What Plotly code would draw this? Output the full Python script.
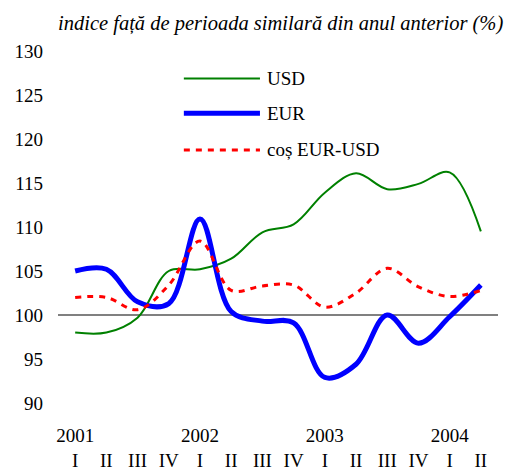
import plotly.graph_objects as go

quarters = ["I", "II", "III", "IV"] * 3 + ["I", "II"]
years = ["2001", "2002", "2003", "2004"]
usd = [98.0, 98.0, 99.7, 105.0, 105.2, 106.4, 109.4, 110.3, 113.9, 116.1, 114.3, 114.9, 116.2, 109.5]
eur = [105.0, 105.2, 101.5, 101.3, 110.9, 100.4, 99.3, 99.1, 92.9, 94.4, 100.0, 96.8, 99.8, 103.4]
cos = [102.0, 102.0, 100.6, 103.4, 108.4, 102.8, 103.3, 103.4, 100.9, 102.5, 105.3, 103.2, 102.1, 102.8]
yticks = [90, 95, 100, 105, 110, 115, 120, 125, 130]
title = "indice față de perioada similară din anul anterior (%)"

x = list(range(len(quarters)))
ticktext = []
for i, q in enumerate(quarters):
    if i % 4 == 0:
        ticktext.append(years[i // 4] + "<br>" + q)
    else:
        ticktext.append("<br>" + q)

FONT = "Liberation Serif, Times New Roman, serif"
fig = go.Figure()
fig.add_trace(go.Scatter(x=x, y=usd, mode="lines", name="USD",
                         line=dict(color="#008000", width=2, shape="spline", smoothing=1)))
fig.add_trace(go.Scatter(x=x, y=eur, mode="lines", name="EUR",
                         line=dict(color="#0000FF", width=5, shape="spline", smoothing=1)))
fig.add_trace(go.Scatter(x=x, y=cos, mode="lines", name="coș EUR-USD",
                         line=dict(color="#FF0000", width=3, shape="spline", smoothing=1, dash="6px,6px")))

# baseline at 100
fig.add_shape(type="line", xref="paper", x0=0, x1=1, yref="y", y0=100, y1=100,
              line=dict(color="#808080", width=2), layer="below")

# custom legend
leg = [("USD", "#008000", 2, "solid", 0.922),
       ("EUR", "#0000FF", 5, "solid", 0.823),
       ("coș EUR-USD", "#FF0000", 3, "6px,6px", 0.719)]
for name, col, w, d, yy in leg:
    fig.add_shape(type="line", xref="paper", yref="paper", x0=0.286, x1=0.459, y0=yy, y1=yy,
                  line=dict(color=col, width=w, dash=d))
    fig.add_annotation(xref="paper", yref="paper", x=0.471, y=yy, text=name, showarrow=False,
                       xanchor="left", yanchor="middle", font=dict(family=FONT, size=19, color="black"))

fig.add_annotation(xref="paper", yref="paper", x=1.016, y=1.077, text="<i>" + title + "</i>",
                   showarrow=False, xanchor="right", yanchor="middle",
                   font=dict(family=FONT, size=20.5, color="black"))

fig.update_layout(
    width=509, height=471,
    margin=dict(l=58, r=11, t=51, b=68, autoexpand=False),
    paper_bgcolor="white", plot_bgcolor="white",
    showlegend=False,
    font=dict(family=FONT, size=19, color="black"),
    xaxis=dict(range=[-0.55, 13.55], tickmode="array", tickvals=x, ticktext=ticktext,
               showgrid=False, zeroline=False, showline=False, ticks="", tickangle=0,
               ticklabelstandoff=19, automargin=False,
               tickfont=dict(family=FONT, size=19, color="black")),
    yaxis=dict(range=[90, 130], tickmode="array", tickvals=yticks,
               showgrid=False, zeroline=False, showline=False, ticks="",
               ticklabelstandoff=14, automargin=False,
               tickfont=dict(family=FONT, size=19, color="black")),
)
fig.write_html("out.html", config={"displayModeBar": False},
               post_script="document.body.style.margin='0';")
